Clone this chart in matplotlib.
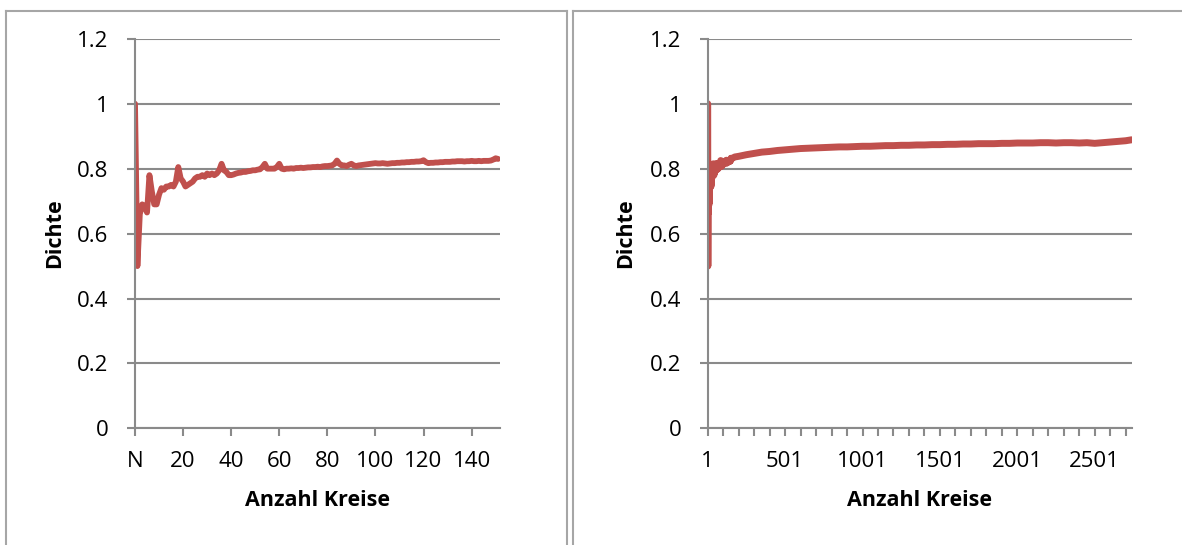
import numpy as np
import matplotlib.pyplot as plt
from matplotlib.lines import Line2D

plt.rcParams['font.family'] = ['Open Sans', 'DejaVu Sans']

# Dichte fuer die ersten 152 Kategorien (N, 1, 2, ...)
dichte_kurz = [
    1.000, 0.500, 0.660, 0.690, 0.685, 0.665, 0.780, 0.730, 0.690, 0.690,
    0.720, 0.740, 0.735, 0.745, 0.745, 0.750, 0.745, 0.760, 0.805, 0.770,
    0.760, 0.745, 0.750, 0.755, 0.760, 0.770, 0.775, 0.775, 0.780, 0.775,
    0.785, 0.780, 0.785, 0.780, 0.785, 0.795, 0.815, 0.795, 0.790, 0.780,
    0.780, 0.782, 0.785, 0.787, 0.788, 0.790, 0.790, 0.792, 0.793, 0.795,
    0.795, 0.797, 0.798, 0.805, 0.815, 0.800, 0.800, 0.800, 0.800, 0.805,
    0.815, 0.800, 0.798, 0.800, 0.800, 0.801, 0.800, 0.802, 0.802, 0.803,
    0.802, 0.803, 0.804, 0.804, 0.805, 0.805, 0.806, 0.805, 0.807, 0.808,
    0.808, 0.809, 0.810, 0.815, 0.825, 0.815, 0.810, 0.810, 0.808, 0.812,
    0.815, 0.810, 0.808, 0.810, 0.811, 0.812, 0.813, 0.814, 0.815, 0.816,
    0.817, 0.816, 0.816, 0.817, 0.816, 0.815, 0.816, 0.817, 0.817, 0.818,
    0.818, 0.819, 0.819, 0.820, 0.820, 0.821, 0.821, 0.822, 0.822, 0.823,
    0.826, 0.820, 0.817, 0.818, 0.818, 0.819, 0.819, 0.820, 0.820, 0.821,
    0.821, 0.821, 0.822, 0.822, 0.823, 0.823, 0.823, 0.822, 0.823, 0.823,
    0.824, 0.823, 0.823, 0.824, 0.823, 0.824, 0.824, 0.824, 0.825, 0.828,
    0.832, 0.830,
]

# Werte der langen Reihe ab Kategorie 175 (Stuetzstellen)
lang_pos = [175, 200, 250, 300, 350, 400, 450, 500, 550, 600, 650, 700, 750,
            800, 850, 900, 950, 1000, 1050, 1100, 1150, 1200, 1250, 1300,
            1350, 1400, 1450, 1500, 1550, 1600, 1650, 1700, 1750, 1800, 1850,
            1900, 1950, 2000, 2050, 2100, 2150, 2200, 2250, 2300, 2350, 2400,
            2450, 2500, 2550, 2600, 2650, 2700, 2739]
lang_wert = [0.836, 0.838, 0.843, 0.847, 0.851, 0.853, 0.856, 0.858, 0.860,
             0.862, 0.863, 0.864, 0.865, 0.866, 0.867, 0.867, 0.868, 0.869,
             0.869, 0.870, 0.871, 0.871, 0.872, 0.872, 0.873, 0.873, 0.874,
             0.874, 0.875, 0.875, 0.876, 0.876, 0.877, 0.877, 0.877, 0.878,
             0.878, 0.879, 0.879, 0.879, 0.880, 0.880, 0.879, 0.880, 0.880,
             0.879, 0.880, 0.878, 0.880, 0.882, 0.884, 0.886, 0.889]

links_ticks = [0, 20, 40, 60, 80, 100, 120, 140]
links_labels = ['N', '20', '40', '60', '80', '100', '120', '140']
rechts_labels = ['1', '501', '1001', '1501', '2001', '2501']

rot = '#C0504D'
grau = '#8A8A8A'

W, H = 1182, 545
fig = plt.figure(figsize=(W / 100, H / 100), dpi=100)


def px(x0, x1, y0, y1):
    return [x0 / W, 1 - y1 / H, (x1 - x0) / W, (y1 - y0) / H]


def stil(ax):
    ax.set_ylim(0, 1.2)
    ax.set_yticks([0, 0.2, 0.4, 0.6, 0.8, 1.0, 1.2])
    ax.set_yticklabels(['0', '0.2', '0.4', '0.6', '0.8', '1', '1.2'])
    ax.grid(axis='y', color=grau, linewidth=1.5)
    ax.set_axisbelow(True)
    for s in ['top', 'right']:
        ax.spines[s].set_visible(False)
    for s in ['left', 'bottom']:
        ax.spines[s].set_color(grau)
        ax.spines[s].set_linewidth(1.5)
    ax.tick_params(axis='y', length=6, width=1.5, color=grau, pad=13,
                   labelsize=16)
    ax.tick_params(axis='x', length=6, width=1.5, color=grau, pad=10,
                   labelsize=16)


ax1 = fig.add_axes(px(135, 500, 38.8, 428.4))
x1 = np.arange(len(dichte_kurz))
ax1.plot(x1, dichte_kurz, color=rot, linewidth=4.2, solid_joinstyle='round',
         solid_capstyle='round')
ax1.set_xlim(0, 151.8)
stil(ax1)
ax1.set_xticks(links_ticks)
ax1.set_xticklabels(links_labels)

ax2 = fig.add_axes(px(707.7, 1131.7, 38.8, 428.4))
x2 = list(range(len(dichte_kurz))) + lang_pos
y2 = dichte_kurz + lang_wert
ax2.plot(x2, y2, color=rot, linewidth=5, solid_joinstyle='round',
         solid_capstyle='round')
ax2.set_xlim(0, 2739)
stil(ax2)
ax2.set_xticks(np.arange(0, 2740, 100), minor=True)
ax2.set_xticks(np.arange(0, 2501, 500))
ax2.set_xticklabels(rechts_labels)
ax2.tick_params(axis='x', which='minor', length=6, width=1.5, color=grau)

fett = dict(fontsize=15.5, fontweight='bold', ha='center', va='center')
fig.text(55 / W, 1 - 233.6 / H, 'Dichte', rotation=90, **fett)
fig.text(626 / W, 1 - 233.6 / H, 'Dichte', rotation=90, **fett)
fig.text(317.5 / W, 1 - 501 / H, 'Anzahl Kreise', **fett)
fig.text(919.7 / W, 1 - 501 / H, 'Anzahl Kreise', **fett)

# Rahmen der beiden Diagramme
rahmen = '#A6A6A6'
for xs, ys in [([6, 6], [11, 545]), ([6, 567], [11, 11]), ([567, 567], [11, 545]),
               ([573, 573], [11, 545]), ([573, 1182], [11, 11])]:
    fig.add_artist(Line2D([x / W for x in xs], [1 - y / H for y in ys],
                          color=rahmen, linewidth=1.5))

fig.savefig('out.png', dpi=100)
